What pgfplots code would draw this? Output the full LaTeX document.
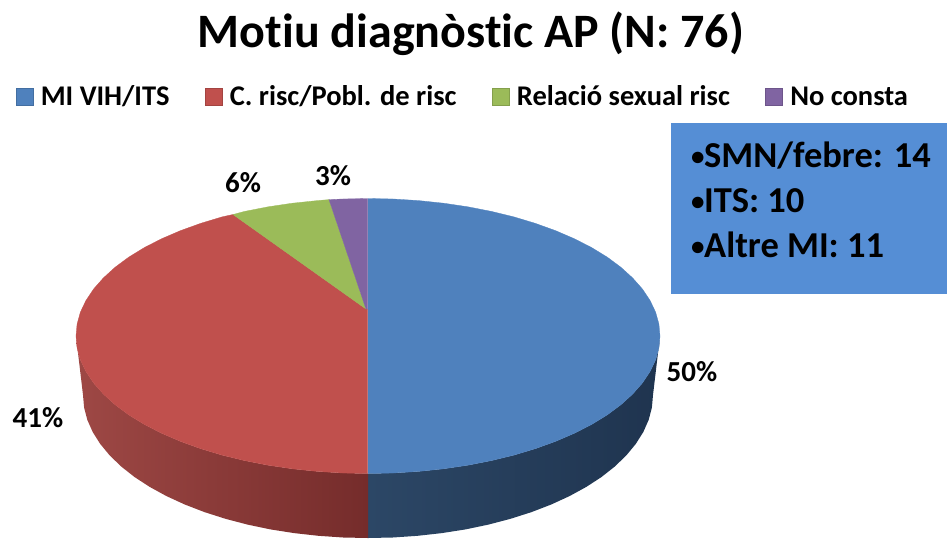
\documentclass[border=0pt]{standalone}
\usepackage{fontspec}
\setmainfont{Carlito}[Ligatures=NoCommon]
\usepackage{pgfplots}
\pgfplotsset{compat=1.18}
\definecolor{cBlue}{HTML}{4F81BD}
\definecolor{cRed}{HTML}{C0504D}
\definecolor{cGreen}{HTML}{9BBB59}
\definecolor{cPurple}{HTML}{8064A2}
\definecolor{cBox}{HTML}{558ED5}
\definecolor{sideBlueA}{HTML}{2C4766}
\definecolor{sideBlueB}{HTML}{1F344F}
\definecolor{sideRedA}{HTML}{9E4845}
\definecolor{sideRedB}{HTML}{752C2B}

\begin{document}
\begin{tikzpicture}
\path[use as bounding box] (0,0) rectangle (947pt,539pt);
% shares: 50, 41, 6, 3 -- outlines in pixel coordinates
\begin{axis}[
  at={(0,0)}, anchor=south west,
  scale only axis, width=947pt, height=539pt,
  xmin=0, xmax=947, ymin=0, ymax=539, y dir=reverse,
  axis lines=none, clip=false,
  legend style={at={(axis cs:16,96)}, anchor=west, draw=none, fill=none,
    inner sep=0pt, outer sep=0pt, legend columns=-1,
    font=\fontsize{28.5}{28.5}\selectfont\bfseries,
    nodes={inner xsep=0pt, inner ysep=0pt, anchor=base west},
    /tikz/every odd column/.append style={column sep=7pt},
    /tikz/every even column/.append style={column sep=35.5pt}},
  legend image code/.code={\path[#1] (0pt,-0.5pt) rectangle (17pt,17pt);},
]
% side wall, blue
\addplot[forget plot, draw=none, shade, left color=sideBlueA, right color=sideBlueB] coordinates {
 (368,473.5) (393.4,473) (418.7,471.4) (443.6,468.8) (467.9,465.2) (491.4,460.6) (514,455.1) (535.5,448.6)
 (555.7,441.3) (574.5,433.2) (591.7,424.4) (607.2,414.9) (620.9,404.75) (632.6,394.1) (642.4,383) (650,371.6)
 (655.6,359.9) (658.9,348) (660,336)
 (653,395) (651.9,407.5) (648.7,419.8) (643.3,432) (635.8,443.9) (626.3,455.4) (614.8,466.5) (601.5,477)
 (586.3,486.9) (569.5,496.1) (551.2,504.5) (531.5,512.1) (510.5,518.8) (488.4,524.6) (465.5,529.4) (441.8,533.1)
 (417.5,535.8) (392.8,537.5) (368,538)} -- cycle;
% side wall, red
\addplot[forget plot, draw=none, shade, left color=sideRedA, right color=sideRedB] coordinates {
 (368,473.5) (342.6,473) (317.3,471.4) (292.4,468.8) (268.1,465.2) (244.6,460.6) (222,455.1) (200.5,448.6)
 (180.3,441.3) (161.5,433.2) (144.3,424.4) (128.8,414.9) (115.1,404.75) (103.4,394.1) (93.6,383) (86,371.6)
 (80.4,359.9) (77.1,348) (76,336)
 (83,395) (84.1,407.5) (87.3,419.8) (92.7,432) (100.2,443.9) (109.7,455.4) (121.2,466.5) (134.5,477)
 (149.7,486.9) (166.5,496.1) (184.8,504.5) (204.5,512.1) (225.5,518.8) (247.6,524.6) (270.5,529.4) (294.2,533.1)
 (318.5,535.8) (343.2,537.5) (368,538)} -- cycle;
% top face, blue (50%)
\addplot[forget plot, fill=cBlue, draw=cBlue, line width=0.3pt] coordinates {
 (368,198.5) (393.4,199) (418.7,200.6) (443.6,203.2) (467.9,206.8) (491.4,211.4) (514,216.9) (535.5,223.4)
 (555.7,230.7) (574.5,238.8) (591.7,247.6) (607.2,257.1) (620.9,267.25) (632.6,277.9) (642.4,289) (650,300.4)
 (655.6,312.1) (658.9,324) (660,336) (658.9,348) (655.6,359.9) (650,371.6) (642.4,383) (632.6,394.1)
 (620.9,404.75) (607.2,414.9) (591.7,424.4) (574.5,433.2) (555.7,441.3) (535.5,448.6) (514,455.1) (491.4,460.6)
 (467.9,465.2) (443.6,468.8) (418.7,471.4) (393.4,473) (368,473.5)} -- cycle;
% top face, red (41%)
\addplot[forget plot, fill=cRed, draw=cRed, line width=0.3pt] coordinates {
 (367.5,473.5) (342.6,473) (317.3,471.4) (292.4,468.8) (268.1,465.2) (244.6,460.6) (222,455.1) (200.5,448.6)
 (180.3,441.3) (161.5,433.2) (144.3,424.4) (128.8,414.9) (115.1,404.75) (103.4,394.1) (93.6,383) (86,371.6)
 (80.4,359.9) (77.1,348) (76,336) (77.1,324) (80.4,312.1) (86,300.4) (93.6,289) (103.4,277.9)
 (115.1,267.25) (128.8,257.1) (144.3,247.6) (161.5,238.8) (180.3,230.7) (200.5,223.4) (222,216.9) (233,214.5)
 (366,309) (367.5,309)} -- cycle;
% top face, green (6%)
\addplot[forget plot, fill=cGreen, draw=cGreen, line width=0.3pt] coordinates {
 (233,214.5) (244.6,211.4) (268.1,206.8) (292.4,203.2) (317.3,200.6) (329,199.6) (366,309)} -- cycle;
% top face, purple (3%)
\addplot[forget plot, fill=cPurple, draw=cPurple, line width=0.3pt] coordinates {
 (329,199.6) (342.6,199) (367.5,198.5) (367.5,309) (366,309)} -- cycle;
% text box
\addplot[forget plot, fill=cBox, draw=none] coordinates {(671,123) (947,123) (947,294) (671,294)} -- cycle;

\addlegendimage{fill=cBlue, draw=cBlue!85!black, line width=0.8pt}
\addlegendimage{fill=cRed, draw=cRed!85!black, line width=0.8pt}
\addlegendimage{fill=cGreen, draw=cGreen!85!black, line width=0.8pt}
\addlegendimage{fill=cPurple, draw=cPurple!85!black, line width=0.8pt}
\legend{MI VIH/ITS, C. risc/Pobl. de risc, Relació sexual risc, No consta}

\node[anchor=base, font=\fontsize{48}{48}\selectfont\bfseries, inner sep=0pt] at (axis cs:471,47) {Motiu diagnòstic AP (N: 76)};

\node[anchor=base, font=\fontsize{29}{29}\selectfont\bfseries, inner sep=0pt] at (axis cs:692,381) {50\%};
\node[anchor=base, font=\fontsize{29}{29}\selectfont\bfseries, inner sep=0pt] at (axis cs:38,427) {41\%};
\node[anchor=base, font=\fontsize{29}{29}\selectfont\bfseries, inner sep=0pt] at (axis cs:243,192) {6\%};
\node[anchor=base, font=\fontsize{29}{29}\selectfont\bfseries, inner sep=0pt] at (axis cs:333,185) {3\%};

\node[anchor=base west, font=\fontsize{27}{27}\selectfont\bfseries, inner sep=0pt] at (axis cs:691,165) {•};
\node[anchor=base west, font=\fontsize{27}{27}\selectfont\bfseries, inner sep=0pt] at (axis cs:691,210.5) {•};
\node[anchor=base west, font=\fontsize{27}{27}\selectfont\bfseries, inner sep=0pt] at (axis cs:691,255) {•};
\node[anchor=base west, font=\fontsize{36.5}{36.5}\selectfont\bfseries, inner sep=0pt] at (axis cs:704,167) {SMN/febre: 14};
\node[anchor=base west, font=\fontsize{36.5}{36.5}\selectfont\bfseries, inner sep=0pt] at (axis cs:704,212.5) {ITS: 10};
\node[anchor=base west, font=\fontsize{36.5}{36.5}\selectfont\bfseries, inner sep=0pt] at (axis cs:704,257) {Altre MI: 11};
\end{axis}
\end{tikzpicture}
\end{document}
